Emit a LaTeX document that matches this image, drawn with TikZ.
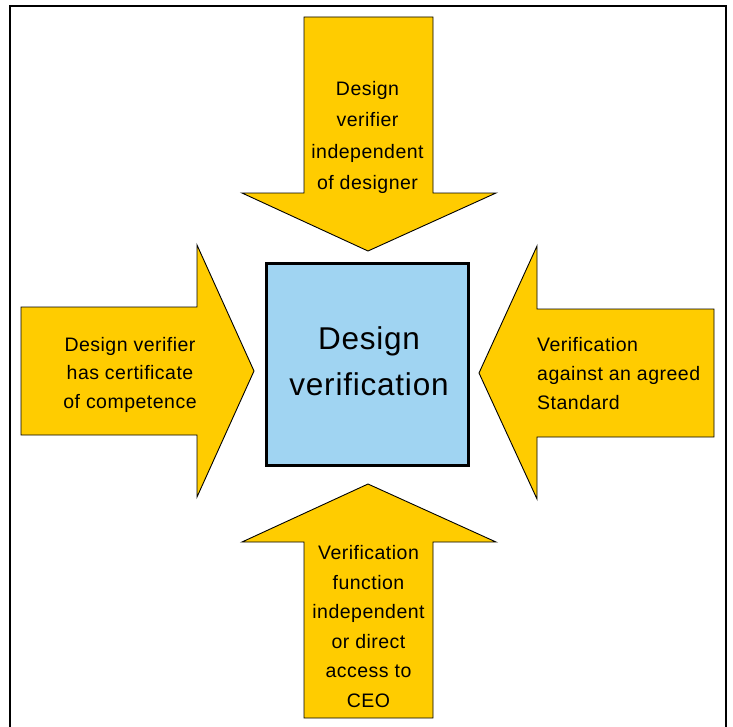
\documentclass[tikz,border=0pt]{standalone}
\usepackage{fontspec}
\setmainfont{Liberation Sans}[LetterSpace=2.5]
\definecolor{arrowyellow}{HTML}{FFCC00}
\definecolor{boxblue}{HTML}{A0D4F2}
\tikzset{
  frameline/.style={line width=2bp, black},
  bigarrow/.style={fill=arrowyellow, draw=black, line width=0.9bp, line join=miter},
  centerbox/.style={fill=boxblue, draw=black, line width=3bp},
  arrowtext/.style={inner sep=0pt, anchor=base, font=\fontsize{19.5bp}{29.5bp}\selectfont},
  boxtext/.style={inner sep=0pt, anchor=base, align=center, font=\fontsize{31.5bp}{46bp}\selectfont},
}
\begin{document}
\begin{tikzpicture}[x=1bp, y=-1bp]
  \useasboundingbox (0,0) rectangle (733,727);
  % open frame around the figure
  \draw[frameline] (10,727) -- (10,6) -- (726,6) -- (726,727);

  % four block arrows pointing at the centre
  \draw[bigarrow] (304,17) -- (433,17) -- (433,193) -- (496,193) -- (368,251)
    -- (242,193) -- (304,193) -- cycle;
  \draw[bigarrow] (304,718) -- (304,542) -- (242,542) -- (368,484) -- (496,542)
    -- (433,542) -- (433,718) -- cycle;
  \draw[bigarrow] (21,307) -- (197,307) -- (197,245) -- (254,371) -- (197,497)
    -- (197,435) -- (21,435) -- cycle;
  \draw[bigarrow] (714,309) -- (537,309) -- (537,246) -- (479,373) -- (537,499)
    -- (537,437) -- (714,437) -- cycle;

  % central box
  \node[centerbox, minimum width=202bp, minimum height=202bp, inner sep=0pt]
    (core) at (367,364) {};
  % multi-line labels are anchored at the baseline of their last line
  \node[boxtext] (coretext) at (369,395) {Design\\verification};

  % arrow labels
  \node[arrowtext, align=center, font=\fontsize{19.5bp}{31bp}\selectfont]
    (toptext) at (367.5,189) {Design\\verifier\\independent\\of designer};
  \node[arrowtext, align=center, font=\fontsize{19.5bp}{28.3bp}\selectfont]
    (lefttext) at (130,408) {Design verifier\\has certificate\\of competence};
  \node[arrowtext, align=left, font=\fontsize{19.5bp}{29bp}\selectfont, anchor=base west]
    (righttext) at (537,409) {Verification\\against an agreed\\Standard};
  \node[arrowtext, align=center]
    (bottomtext) at (368.5,707) {Verification\\function\\independent\\or direct\\access to\\CEO};
\end{tikzpicture}
\end{document}
